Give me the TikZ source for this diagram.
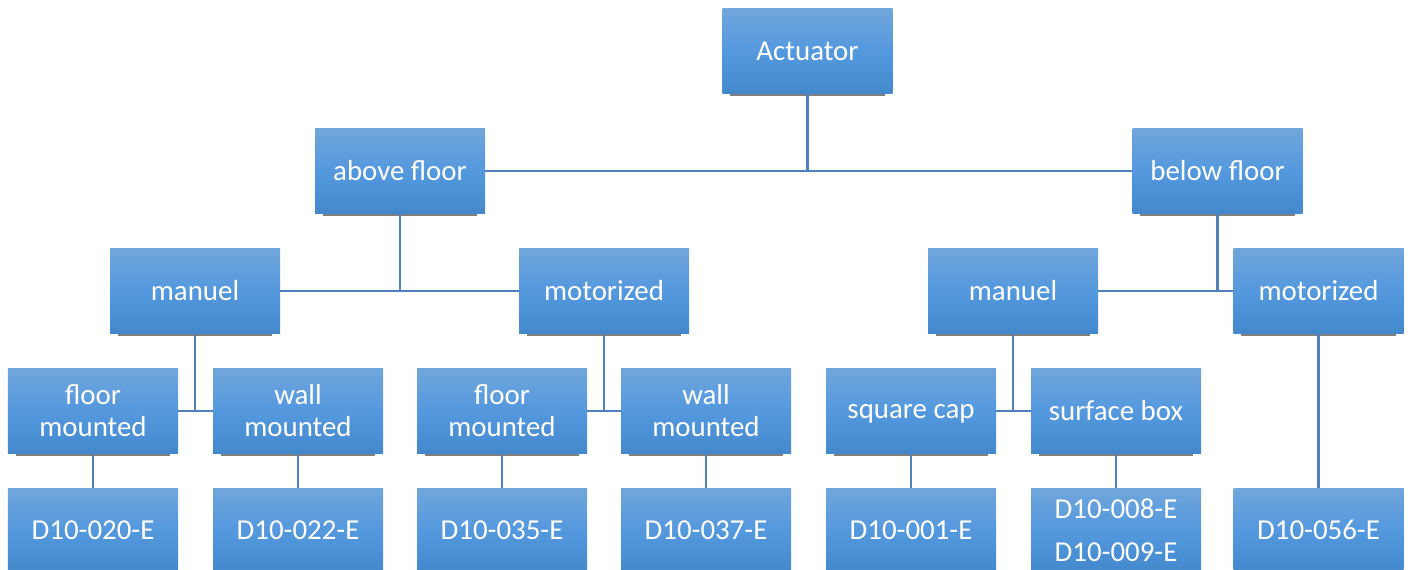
\documentclass[tikz,border=0pt]{standalone}
\usepackage{fontspec}
\setmainfont{Carlito}
\definecolor{btop}{RGB}{112,166,220}
\definecolor{bmid}{RGB}{84,152,222}
\definecolor{bbot}{RGB}{68,136,204}
\definecolor{conncol}{RGB}{79,129,189}
\definecolor{shadcol}{RGB}{128,128,128}
\tikzset{
  box/.style={rectangle, minimum width=170bp, minimum height=85bp, inner sep=0pt,
    top color=btop, bottom color=bbot, middle color=bmid, text=white,
    align=center, font=\fontsize{29}{32}\selectfont},
  lowbox/.style={box, minimum height=84bp},
  nodepth/.style={text depth=0pt},
  conn/.style={draw=conncol, line width=2.2bp},
  shadowline/.style={draw=shadcol, line width=2bp}
}
\begin{document}
\begin{tikzpicture}[x=1bp,y=-1bp]
\useasboundingbox (0,0) rectangle (1408,570);
% level 0-2
\node[box] (act) at (807.5,51.5) {Actuator};
\node[box] (af) at (400,171) {above floor};
\node[box] (bf) at (1217.5,171) {below floor};
\node[box] (m1) at (195,291) {manuel};
\node[box] (mo1) at (604,291) {motorized};
\node[box] (m2) at (1013,291) {manuel};
\node[box] (mo2) at (1318.5,291) {motorized};
% level 3
\node[box] (f1) at (93,411) {floor\\mounted};
\node[box] (w1) at (298,411) {wall\\mounted};
\node[box] (f2) at (502,411) {floor\\mounted};
\node[box] (w2) at (706,411) {wall\\mounted};
\node[box,nodepth] (sq) at (911,411) {square cap};
\node[box] (sb) at (1116,411) {surface box};
% level 4
\node[lowbox] (d20) at (93,530) {D10-020-E};
\node[lowbox] (d22) at (298,530) {D10-022-E};
\node[lowbox] (d35) at (502,530) {D10-035-E};
\node[lowbox] (d37) at (706,530) {D10-037-E};
\node[lowbox] (d01) at (911,530) {D10-001-E};
\node[lowbox] (d08) at (1116,530) {D10-008-E\\[11bp]D10-009-E};
\node[lowbox] (d56) at (1318.5,530) {D10-056-E};
% shadows
\foreach \n in {act,af,bf,m1,mo1,m2,mo2,f1,w1,f2,w2,sq,sb}
  \draw[shadowline] ([xshift=8bp,yshift=-1bp]\n.south west) -- ([xshift=-8bp,yshift=-1bp]\n.south east);
% connectors
\draw[conn] (act.south) -- (act.south |- af.east);
\draw[conn] (af.east) -- (bf.west);
\draw[conn] (af.south) -- (af.south |- m1.east);
\draw[conn] (m1.east) -- (mo1.west);
\draw[conn] (bf.south) -- (bf.south |- m2.east);
\draw[conn] (m2.east) -- (mo2.west);
\draw[conn] (m1.south) -- (m1.south |- f1.east);
\draw[conn] (f1.east) -- (w1.west);
\draw[conn] (mo1.south) -- (mo1.south |- f2.east);
\draw[conn] (f2.east) -- (w2.west);
\draw[conn] (m2.south) -- (m2.south |- sq.east);
\draw[conn] (sq.east) -- (sb.west);
\draw[conn] (mo2.south) -- (d56.north);
\draw[conn] (f1.south) -- (d20.north);
\draw[conn] (w1.south) -- (d22.north);
\draw[conn] (f2.south) -- (d35.north);
\draw[conn] (w2.south) -- (d37.north);
\draw[conn] (sq.south) -- (d01.north);
\draw[conn] (sb.south) -- (d08.north);
\end{tikzpicture}
\end{document}
